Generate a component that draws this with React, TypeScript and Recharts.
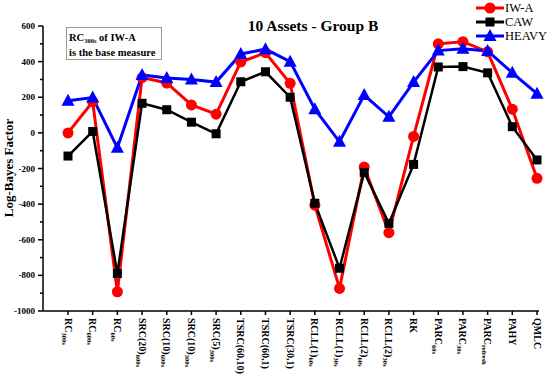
import { Legend, Line, LineChart, XAxis, YAxis } from 'recharts';

const SERIF = '"Liberation Serif", "Times New Roman", serif';

const labelMain = [
    'RC', 'RC', 'RC', 'SRC(20)', 'SRC(10)', 'SRC(10)', 'SRC(5)', 'TSRC(60,10)', 'TSRC(60,1)', 'TSRC(30,1)',
    'RCLL(1)', 'RCLL(1)', 'RCLL(2)', 'RCLL(2)', 'RK', 'PARC', 'PARC', 'PARC', 'PAHY', 'QMLC',
];
const labelSub = [
    '300s', '600s', '60s', '600s', '600s', '300s', '300s', '', '', '',
    '60s', '30s', '60s', '30s', '', '60s', '30s', 'refresh', '', '',
];

const iwA = [0, 175, -892, 310, 280, 157, 105, 398, 450, 278, -406, -873, -192, -560, -20, 500, 512, 455, 133, -255];
const caw = [-130, 8, -790, 166, 130, 60, -5, 287, 343, 200, -395, -760, -222, -508, -177, 370, 372, 337, 35, -152];
const heavy = [180, 198, -84, 325, 308, 300, 285, 443, 470, 400, 133, -50, 212, 90, 285, 462, 472, 460, 337, 220];

const yTicks = [-1000, -900, -800, -700, -600, -500, -400, -300, -200, -100, 0, 100, 200, 300, 400, 500, 600];

const data = labelMain.map((m, i) => ({
    name: m + labelSub[i],
    iwA: iwA[i],
    caw: caw[i],
    heavy: heavy[i],
}));

const Circle = (props: any) => {
    const { cx, cy, index } = props;
    if (cx == null || cy == null) return null;
    return <circle key={`c${index}`} cx={cx} cy={cy} r={5.5} fill="#ff0000" />;
};

const Square = (props: any) => {
    const { cx, cy, index } = props;
    if (cx == null || cy == null) return null;
    return <rect key={`s${index}`} x={cx - 4.5} y={cy - 4.5} width={9} height={9} fill="#000" />;
};

const Triangle = (props: any) => {
    const { cx, cy, index } = props;
    if (cx == null || cy == null) return null;
    return (
        <polygon
            key={`t${index}`}
            points={`${cx},${cy - 7} ${cx - 6.5},${cy + 5} ${cx + 6.5},${cy + 5}`}
            fill="#0000ff"
        />
    );
};

const XTick = (props: any) => {
    const { x, y, payload } = props;
    const i = labelMain.findIndex((m, k) => m + labelSub[k] === payload.value);
    return (
        <g>
            <line x1={x} y1={y} x2={x} y2={y + 4} stroke="#000" strokeWidth={1.5} />
            <text
                transform={`translate(${x},${y + 7}) rotate(90)`}
                textAnchor="start"
                dominantBaseline="central"
                fontFamily={SERIF}
                fontWeight="bold"
                fontSize={10}
                fill="#000"
            >
                {labelMain[i]}
                {labelSub[i] ? (
                    <tspan fontSize={6.5} dy={3}>
                        {labelSub[i]}
                    </tspan>
                ) : null}
            </text>
        </g>
    );
};

const YTick = (props: any) => {
    const { x, y, payload } = props;
    const major = payload.value % 200 === 0;
    return (
        <g>
            <line x1={x - (major ? 5 : 3)} y1={y} x2={x} y2={y} stroke="#000" strokeWidth={1.5} />
            {major ? (
                <text
                    x={x - 8}
                    y={y}
                    textAnchor="end"
                    dominantBaseline="central"
                    fontFamily={SERIF}
                    fontWeight="bold"
                    fontSize={9}
                    fill="#000"
                >
                    {payload.value}
                </text>
            ) : null}
        </g>
    );
};

const legendItems = [
    { label: 'IW-A', color: '#ff0000', Marker: Circle },
    { label: 'CAW', color: '#000', Marker: Square },
    { label: 'HEAVY', color: '#0000ff', Marker: Triangle },
];

const LegendBox = () => (
    <svg width={80} height={45}>
        {legendItems.map(({ label, color, Marker }, i) => {
            const cy = 8 + i * 14;
            return (
                <g key={label}>
                    <line x1={2} y1={cy} x2={30} y2={cy} stroke={color} strokeWidth={3} />
                    <Marker cx={16} cy={cy} index={i} />
                    <text
                        x={31}
                        y={cy}
                        dominantBaseline="central"
                        fontFamily={SERIF}
                        fontSize={12.5}
                        fill="#000"
                    >
                        {label}
                    </text>
                </g>
            );
        })}
    </svg>
);

export default function App() {
    return (
        <div style={{ position: 'absolute', left: 0, top: 0, width: 550, height: 375, background: '#fff' }}>
            <LineChart
                width={550}
                height={375}
                data={data}
                margin={{ top: 26, right: 11, bottom: 0, left: 0 }}
            >
                <XAxis
                    dataKey="name"
                    interval={0}
                    padding={{ left: 25, right: 2 }}
                    height={64}
                    tickSize={0}
                    tickMargin={0}
                    tickLine={false}
                    axisLine={{ stroke: '#000', strokeWidth: 1.5 }}
                    tick={<XTick />}
                />
                <YAxis
                    domain={[-1000, 600]}
                    ticks={yTicks}
                    interval={0}
                    width={43}
                    tickSize={0}
                    tickMargin={0}
                    tickLine={false}
                    axisLine={{ stroke: '#000', strokeWidth: 1.5 }}
                    tick={<YTick />}
                />
                <Legend
                    layout="horizontal"
                    verticalAlign="middle"
                    align="center"
                    wrapperStyle={{ top: 0, left: 474, width: 80, height: 45 }}
                    content={() => <LegendBox />}
                />
                <Line
                    dataKey="iwA"
                    stroke="#ff0000"
                    strokeWidth={3}
                    dot={<Circle />}
                    activeDot={false}
                    isAnimationActive={false}
                />
                <Line
                    dataKey="caw"
                    stroke="#000"
                    strokeWidth={2.5}
                    dot={<Square />}
                    activeDot={false}
                    isAnimationActive={false}
                />
                <Line
                    dataKey="heavy"
                    stroke="#0000ff"
                    strokeWidth={3}
                    dot={<Triangle />}
                    activeDot={false}
                    isAnimationActive={false}
                />
            </LineChart>
            <div
                style={{
                    position: 'absolute',
                    left: 243,
                    top: 16,
                    width: 140,
                    textAlign: 'center',
                    fontFamily: SERIF,
                    fontWeight: 'bold',
                    fontSize: 15.5,
                    whiteSpace: 'nowrap',
                    lineHeight: '20px',
                }}
            >
                10 Assets - Group B
            </div>
            <div
                style={{
                    position: 'absolute',
                    left: 66,
                    top: 27,
                    width: 96,
                    height: 33,
                    border: '1px solid #999',
                    fontFamily: SERIF,
                    fontWeight: 'bold',
                    fontSize: 10.5,
                    lineHeight: '15px',
                    padding: '2px 0 0 2px',
                    boxSizing: 'border-box',
                    whiteSpace: 'nowrap',
                    overflow: 'visible',
                    background: '#fff',
                }}
            >
                <div style={{ height: 15 }}>
                    RC<span style={{ fontSize: 6.5, position: 'relative', top: 2 }}>300s</span> of IW-A
                </div>
                <div style={{ height: 15 }}>is the base measure</div>
            </div>
            <div
                style={{
                    position: 'absolute',
                    left: 9,
                    top: 168,
                    transform: 'translate(-50%, -50%) rotate(-90deg)',
                    fontFamily: SERIF,
                    fontWeight: 'bold',
                    fontSize: 13,
                    whiteSpace: 'nowrap',
                }}
            >
                Log-Bayes Factor
            </div>
        </div>
    );
}
